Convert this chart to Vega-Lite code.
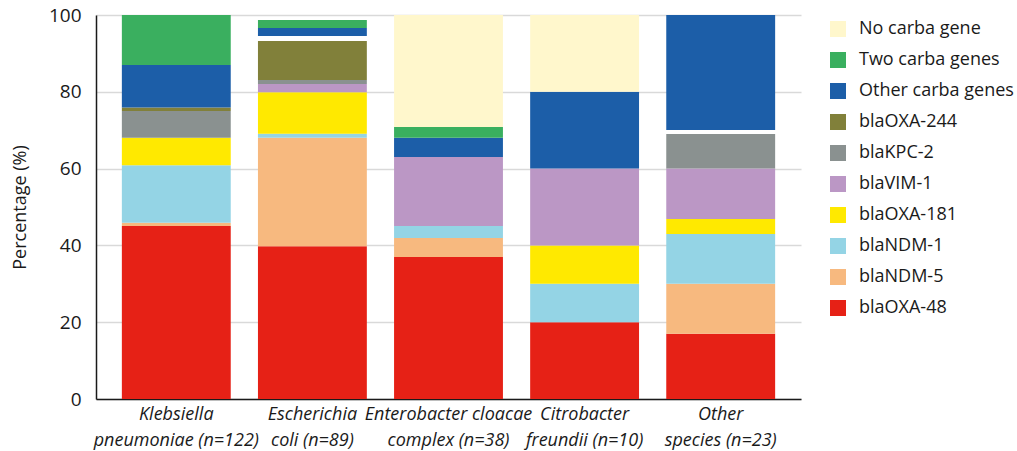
{
  "$schema": "https://vega.github.io/schema/vega-lite/v6.json",
  "width": 705,
  "height": 384,
  "autosize": "none",
  "padding": {"left": 96, "top": 15, "right": 216, "bottom": 52},
  "background": "white",
  "config": {
    "font": "Open Sans",
    "view": {"stroke": null},
    "axis": {"labelColor": "#1a1a1a", "titleColor": "#1a1a1a"}
  },
  "data": {
    "values": [
      {"species": "Klebsiella|pneumoniae (n=122)", "gene": "blaOXA-48", "k": 1, "pct": 45.05},
      {"species": "Klebsiella|pneumoniae (n=122)", "gene": "blaNDM-5", "k": 2, "pct": 0.85},
      {"species": "Klebsiella|pneumoniae (n=122)", "gene": "blaNDM-1", "k": 3, "pct": 15.0},
      {"species": "Klebsiella|pneumoniae (n=122)", "gene": "blaOXA-181", "k": 4, "pct": 7.15},
      {"species": "Klebsiella|pneumoniae (n=122)", "gene": "blaKPC-2", "k": 6, "pct": 6.95},
      {"species": "Klebsiella|pneumoniae (n=122)", "gene": "blaOXA-244", "k": 7, "pct": 0.9},
      {"species": "Klebsiella|pneumoniae (n=122)", "gene": "Other carba genes", "k": 9, "pct": 11.1},
      {"species": "Klebsiella|pneumoniae (n=122)", "gene": "Two carba genes", "k": 10, "pct": 13.0},

      {"species": "Escherichia|coli (n=89)", "gene": "blaOXA-48", "k": 1, "pct": 39.8},
      {"species": "Escherichia|coli (n=89)", "gene": "blaNDM-5", "k": 2, "pct": 28.25},
      {"species": "Escherichia|coli (n=89)", "gene": "blaNDM-1", "k": 3, "pct": 1.05},
      {"species": "Escherichia|coli (n=89)", "gene": "blaOXA-181", "k": 4, "pct": 10.8},
      {"species": "Escherichia|coli (n=89)", "gene": "blaVIM-1", "k": 5, "pct": 2.1},
      {"species": "Escherichia|coli (n=89)", "gene": "blaKPC-2", "k": 6, "pct": 1.1},
      {"species": "Escherichia|coli (n=89)", "gene": "blaOXA-244", "k": 7, "pct": 10.1},
      {"species": "Escherichia|coli (n=89)", "gene": "gap", "k": 8, "pct": 1.3},
      {"species": "Escherichia|coli (n=89)", "gene": "Other carba genes", "k": 9, "pct": 2.1},
      {"species": "Escherichia|coli (n=89)", "gene": "Two carba genes", "k": 10, "pct": 2.1},

      {"species": "Enterobacter cloacae|complex (n=38)", "gene": "blaOXA-48", "k": 1, "pct": 37.0},
      {"species": "Enterobacter cloacae|complex (n=38)", "gene": "blaNDM-5", "k": 2, "pct": 4.9},
      {"species": "Enterobacter cloacae|complex (n=38)", "gene": "blaNDM-1", "k": 3, "pct": 3.15},
      {"species": "Enterobacter cloacae|complex (n=38)", "gene": "blaVIM-1", "k": 5, "pct": 18.0},
      {"species": "Enterobacter cloacae|complex (n=38)", "gene": "Other carba genes", "k": 9, "pct": 5.0},
      {"species": "Enterobacter cloacae|complex (n=38)", "gene": "Two carba genes", "k": 10, "pct": 2.8},
      {"species": "Enterobacter cloacae|complex (n=38)", "gene": "No carba gene", "k": 11, "pct": 29.15},

      {"species": "Citrobacter|freundii (n=10)", "gene": "blaOXA-48", "k": 1, "pct": 20},
      {"species": "Citrobacter|freundii (n=10)", "gene": "blaNDM-1", "k": 3, "pct": 10},
      {"species": "Citrobacter|freundii (n=10)", "gene": "blaOXA-181", "k": 4, "pct": 10},
      {"species": "Citrobacter|freundii (n=10)", "gene": "blaVIM-1", "k": 5, "pct": 20},
      {"species": "Citrobacter|freundii (n=10)", "gene": "Other carba genes", "k": 9, "pct": 20},
      {"species": "Citrobacter|freundii (n=10)", "gene": "No carba gene", "k": 11, "pct": 20},

      {"species": "Other|species (n=23)", "gene": "blaOXA-48", "k": 1, "pct": 17.0},
      {"species": "Other|species (n=23)", "gene": "blaNDM-5", "k": 2, "pct": 13.0},
      {"species": "Other|species (n=23)", "gene": "blaNDM-1", "k": 3, "pct": 13.0},
      {"species": "Other|species (n=23)", "gene": "blaOXA-181", "k": 4, "pct": 3.9},
      {"species": "Other|species (n=23)", "gene": "blaVIM-1", "k": 5, "pct": 13.1},
      {"species": "Other|species (n=23)", "gene": "blaKPC-2", "k": 6, "pct": 9.0},
      {"species": "Other|species (n=23)", "gene": "gap", "k": 8, "pct": 1.05},
      {"species": "Other|species (n=23)", "gene": "Other carba genes", "k": 9, "pct": 29.95}
    ]
  },
  "mark": {"type": "bar"},
  "encoding": {
    "x": {
      "field": "species",
      "type": "nominal",
      "sort": null,
      "scale": {"paddingInner": 0.2, "paddingOuter": 0.19},
      "axis": {
        "title": null,
        "labelAngle": 0,
        "labelExpr": "split(datum.value, '|')",
        "labelFont": "Open Sans",
        "labelFontStyle": "italic",
        "labelFontSize": 18,
        "labelLineHeight": 26,
        "labelPadding": 6,
        "labelBaseline": "top",
        "ticks": false,
        "domainColor": "#1a1a1a",
        "domainWidth": 1.5,
        "grid": false
      }
    },
    "y": {
      "field": "pct",
      "type": "quantitative",
      "stack": "zero",
      "scale": {"domain": [0, 100], "nice": false},
      "axis": {
        "title": "Percentage (%)",
        "titleFontSize": 18,
        "titleFontWeight": "normal",
        "titlePadding": 19,
        "values": [0, 20, 40, 60, 80, 100],
        "labelFontSize": 19,
        "labelPadding": 15,
        "ticks": false,
        "domainColor": "#1a1a1a",
        "domainWidth": 1.5,
        "gridColor": "#d9d9d9",
        "gridWidth": 1.5
      }
    },
    "order": {"field": "k", "type": "quantitative"},
    "color": {
      "field": "gene",
      "type": "nominal",
      "scale": {
        "domain": ["No carba gene", "Two carba genes", "Other carba genes", "blaOXA-244", "blaKPC-2", "blaVIM-1", "blaOXA-181", "blaNDM-1", "blaNDM-5", "blaOXA-48", "gap"],
        "range": ["#fff7cc", "#3aaf5f", "#1c5ea8", "#81803a", "#8a9190", "#bb97c5", "#ffe900", "#94d4e5", "#f7b97f", "#e62116", "#ffffff"]
      },
      "legend": {
        "title": null,
        "orient": "right",
        "offset": 23,
        "values": ["No carba gene", "Two carba genes", "Other carba genes", "blaOXA-244", "blaKPC-2", "blaVIM-1", "blaOXA-181", "blaNDM-1", "blaNDM-5", "blaOXA-48"],
        "symbolType": "square",
        "symbolSize": 256,
        "symbolStrokeWidth": 0,
        "labelFontSize": 18,
        "labelColor": "#1a1a1a",
        "labelOffset": 12,
        "rowPadding": 13,
        "padding": 5,
        "labelLimit": 200
      }
    }
  }
}
